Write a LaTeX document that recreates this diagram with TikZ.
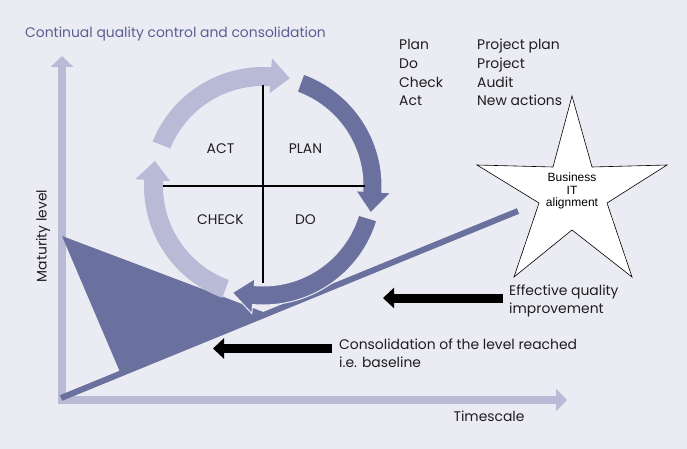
\documentclass[tikz,border=0pt]{standalone}
\usepackage{fontspec}
\setmainfont{Poppins}
\newfontfamily\arialf{Liberation Sans}
\usetikzlibrary{arrows.meta}
\definecolor{bg}{HTML}{EBEBF4}
\definecolor{lightax}{HTML}{B8BAD6}
\definecolor{darkb}{HTML}{6B719E}
\definecolor{titlec}{HTML}{5A5F92}
\definecolor{txt}{HTML}{1E1E1E}
\newcommand\ringarrow[4]{%
  \filldraw[#4] (#1:119) arc[start angle=#1, end angle=#2, radius=119]
    -- (#2:128) -- (#3:111) -- (#2:93) -- (#2:100)
    arc[start angle=#2, end angle=#1, radius=100] -- cycle;}
\begin{document}
\begin{tikzpicture}[x=1pt,y=-1pt,
  lbl/.style={font=\fontsize{13.9}{16}\selectfont, text=txt, inner sep=0},
  axis/.style={lightax, line width=8pt, -{Triangle[width=22pt,length=11pt]}},
  blackarrow/.style={black, line width=9pt, -{Triangle[width=20pt,length=11pt]}},
  lightarc/.style={fill=lightax, draw=none},
  darkarc/.style={fill=darkb, draw=bg, line width=1pt},
  cross/.style={black, line width=1.3pt}]
\fill[bg] (0,0) rectangle (687,449);
\useasboundingbox (0,0) rectangle (687,449);
% axes
\coordinate (ybot) at (62,404);
\coordinate (ytop) at (62,56);
\coordinate (xleft) at (58,400);
\coordinate (xright) at (567,400);
\draw[axis] (ybot) -- (ytop);
\draw[axis] (xleft) -- (xright);
% triangle and baseline
\coordinate (t1) at (62,236);
\coordinate (t2) at (120,372);
\coordinate (t3) at (266,313);
\fill[darkb] (t1) -- (t2) -- (t3) -- cycle;
\coordinate (b1) at (61,398);
\coordinate (b2) at (518,211);
\draw[darkb, line width=6pt] (b1) -- (b2);
% PDCA circle
\begin{scope}[shift={(263,186)}, yscale=-1]
  \ringarrow{158}{86}{76}{lightarc}
  \ringarrow{70}{-3}{-14}{darkarc}
  \ringarrow{-17}{-95}{-106}{darkarc}
  \ringarrow{-110}{-183}{-193}{lightarc}
  \coordinate (vt) at (0,101);
  \coordinate (vb) at (0,-97);
  \coordinate (hl) at (-100,0);
  \coordinate (hr) at (102,0);
  \draw[cross] (vt) -- (vb);
  \draw[cross] (hl) -- (hr);
\end{scope}
\node[lbl, anchor=base] (act) at (220.5,153.3) {ACT};
\node[lbl, anchor=base] (plan) at (305.5,153.3) {PLAN};
\node[lbl, anchor=base] (check) at (220.5,224) {CHECK};
\node[lbl, anchor=base] (do) at (305.5,224) {DO};
% title
\node[lbl, anchor=base west, text=titlec] (title) at (25,38) {Continual quality control and consolidation};
% legend
\node[lbl, anchor=base west] (l1) at (399,50) {Plan};
\node[lbl, anchor=base west] (l2) at (399,68.5) {Do};
\node[lbl, anchor=base west] (l3) at (399,87.2) {Check};
\node[lbl, anchor=base west] (l4) at (399,106) {Act};
\node[lbl, anchor=base west] (r1) at (477,50) {Project plan};
\node[lbl, anchor=base west] (r2) at (477,68.5) {Project};
\node[lbl, anchor=base west] (r3) at (477,87.2) {Audit};
\node[lbl, anchor=base west] (r4) at (477,106) {New actions};
% star
\filldraw[fill=white, draw=black, line width=0.6pt]
  (572,96) -- (592,167) -- (667,165) -- (607,203) -- (632,277) -- (572,230)
  -- (514,277) -- (539,203) -- (477,165) -- (553,167) -- cycle;
\node[align=center, inner sep=0, font=\arialf\fontsize{12}{12.5}\selectfont] (star) at (572,191) {Business\\IT\\alignment};
% black arrows and labels
\node[lbl, anchor=base west] (eff1) at (509,295) {Effective quality};
\node[lbl, anchor=base west] (eff2) at (509,313.3) {improvement};
\node[lbl, anchor=base west] (con1) at (339,349) {Consolidation of the level reached};
\node[lbl, anchor=base west] (con2) at (339,367.7) {i.e. baseline};
\coordinate (e1) at (503,298);
\coordinate (e2) at (383,298);
\coordinate (c1) at (332,348.5);
\coordinate (c2) at (213,348.5);
\draw[blackarrow] (e1) -- (e2);
\draw[blackarrow] (c1) -- (c2);
% axis labels
\node[lbl, anchor=base] (time) at (489,421) {Timescale};
\node[lbl, anchor=base, rotate=90] (mat) at (46.5,236) {Maturity level};
\end{tikzpicture}
\end{document}
